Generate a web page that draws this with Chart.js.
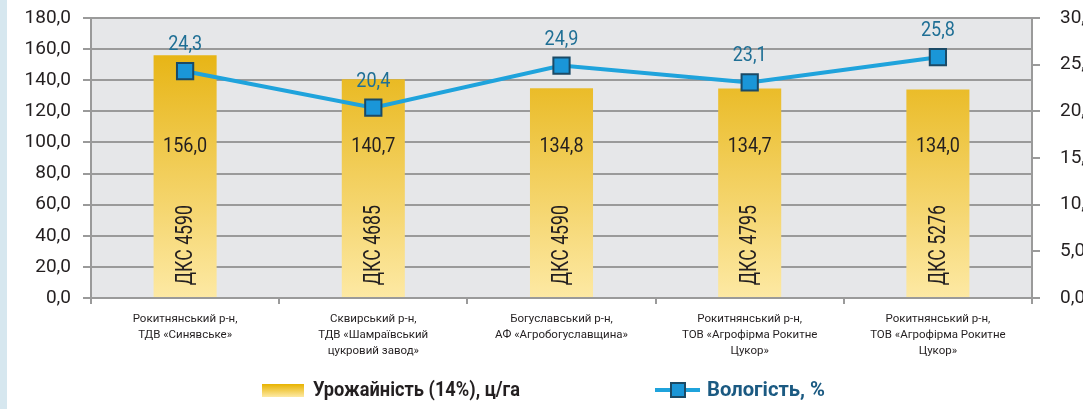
<!DOCTYPE html>
<html>
<head>
<meta charset="utf-8">
<script src="https://cdn.jsdelivr.net/npm/chart.js@4"></script>
<style>
  html, body { margin: 0; padding: 0; background: #fff; }
  canvas { display: block; }
</style>
</head>
<body>
<canvas id="grafico" width="1083" height="409"></canvas>
<script>
// ===== DADOS =====
const regioes = [
    ['Рокитнянський р-н,', 'ТДВ «Синявське»'],
    ['Сквирський р-н,', 'ТДВ «Шамраївський', 'цукровий завод»'],
    ['Богуславський р-н,', 'АФ «Агробогуславщина»'],
    ['Рокитнянський р-н,', 'ТОВ «Агрофірма Рокитне', 'Цукор»'],
    ['Рокитнянський р-н,', 'ТОВ «Агрофірма Рокитне', 'Цукор»']
];
const gibridy = ['ДКС 4590', 'ДКС 4685', 'ДКС 4590', 'ДКС 4795', 'ДКС 5276'];
const urozhainist = [156.0, 140.7, 134.8, 134.7, 134.0];
const vologist = [24.3, 20.4, 24.9, 23.1, 25.8];

const FONT = "'Roboto', sans-serif";
const coma = v => v.toFixed(1).replace('.', ',');

// texto estreito (a fonte original e condensada)
function textoEstreito(ctx, txt, x, y, escala) {
    ctx.save();
    ctx.translate(x, y);
    ctx.scale(escala, 1);
    ctx.fillText(txt, 0, 0);
    ctx.restore();
}

// eixo vertical sem margem extra em cima/baixo
const semMargem = w => s => { s.width = w; s.paddingTop = 0; s.paddingBottom = 0; };

// ===== PLUGIN: fundo, rotulos, legenda =====
const extras = {
    id: 'extras',
    beforeDraw(chart) {
        const { ctx, chartArea: a } = chart;
        ctx.save();
        ctx.fillStyle = '#d6e7ef';
        ctx.fillRect(0, 0, 7, chart.height);
        ctx.fillStyle = '#e6e7e9';
        ctx.fillRect(a.left, a.top, a.right - a.left, a.bottom - a.top);
        ctx.restore();
    },
    afterDatasetsDraw(chart) {
        const { ctx } = chart;
        const barras = chart.getDatasetMeta(0).data;
        const pontos = chart.getDatasetMeta(1).data;
        const y = chart.scales.y;
        ctx.save();
        ctx.textAlign = 'center';
        ctx.textBaseline = 'middle';
        barras.forEach((b, i) => {
            ctx.fillStyle = '#231f20';
            ctx.font = `20px ${FONT}`;
            textoEstreito(ctx, coma(urozhainist[i]), b.x, y.getPixelForValue(97), 0.9);
            ctx.save();
            ctx.translate(b.x, y.getPixelForValue(34));
            ctx.rotate(-Math.PI / 2);
            ctx.font = `23px ${FONT}`;
            textoEstreito(ctx, gibridy[i], 0, 1, 0.77);
            ctx.restore();
        });
        pontos.forEach((p, i) => {
            ctx.fillStyle = '#1f6f95';
            ctx.font = `20px ${FONT}`;
            textoEstreito(ctx, coma(vologist[i]), p.x, p.y - 26, 0.9);
        });
        ctx.restore();
    },
    afterDraw(chart) {
        const { ctx } = chart;
        ctx.save();
        const g = ctx.createLinearGradient(0, 384, 0, 397);
        g.addColorStop(0, '#e8b300');
        g.addColorStop(1, '#fde9a4');
        ctx.fillStyle = g;
        ctx.fillRect(262, 384, 42, 13);
        ctx.font = `bold 21px ${FONT}`;
        ctx.textBaseline = 'middle';
        ctx.fillStyle = '#231f20';
        let t = 'Урожайність (14%), ц/га';
        textoEstreito(ctx, t, 313, 391, 207 / ctx.measureText(t).width);

        ctx.strokeStyle = '#1fa3dc';
        ctx.lineWidth = 4;
        ctx.beginPath();
        ctx.moveTo(655, 390);
        ctx.lineTo(700, 390);
        ctx.stroke();
        ctx.fillStyle = '#1a96d8';
        ctx.strokeStyle = '#1b4a66';
        ctx.lineWidth = 2;
        ctx.fillRect(671, 383, 14, 14);
        ctx.strokeRect(671, 383, 14, 14);
        ctx.fillStyle = '#1b5a82';
        t = 'Вологість, %';
        textoEstreito(ctx, t, 707, 391, 118 / ctx.measureText(t).width);
        ctx.restore();
    }
};

// ===== GRAFICO =====
const ctxG = document.getElementById('grafico').getContext('2d');
const grad = ctxG.createLinearGradient(0, 18, 0, 298);
grad.addColorStop(0, '#e4ad00');
grad.addColorStop(1, '#fde9a4');

new Chart(ctxG, {
    type: 'bar',
    data: {
        labels: regioes,
        datasets: [{
            label: 'Урожайність (14%), ц/га',
            data: urozhainist,
            backgroundColor: grad,
            yAxisID: 'y',
            barPercentage: 0.335,
            categoryPercentage: 1,
            order: 2
        }, {
            type: 'line',
            label: 'Вологість, %',
            data: vologist,
            yAxisID: 'y1',
            borderColor: '#1fa3dc',
            borderWidth: 4,
            pointStyle: 'rect',
            pointRadius: 11.5,
            pointBackgroundColor: '#1a96d8',
            pointBorderColor: '#1b4a66',
            pointBorderWidth: 2,
            tension: 0,
            order: 1
        }]
    },
    options: {
        responsive: false,
        animation: false,
        devicePixelRatio: 1,
        layout: { padding: { top: 18, left: 0, right: 0, bottom: 0 } },
        plugins: { legend: { display: false }, tooltip: { enabled: false } },
        scales: {
            x: {
                afterFit: s => { s.height = 111; },
                grid: { drawOnChartArea: false, drawTicks: true, tickLength: 6, color: '#9a9a9a', lineWidth: 2, offset: true },
                border: { display: true, color: '#9a9a9a', width: 2 },
                ticks: { color: '#231f20', padding: 7, maxRotation: 0, autoSkip: false, font: { family: FONT, size: 11.5, lineHeight: 1.4 } }
            },
            y: {
                position: 'left',
                min: 0, max: 180,
                afterFit: semMargem(91),
                grid: { color: '#9a9a9a', lineWidth: 2, tickLength: 8 },
                border: { display: true, color: '#9a9a9a', width: 2 },
                ticks: { stepSize: 20, padding: 12, color: '#231f20', callback: v => coma(v), font: { family: FONT, size: 19 } }
            },
            y1: {
                position: 'right',
                min: 0, max: 30,
                afterFit: semMargem(51),
                grid: { drawOnChartArea: false, color: '#9a9a9a', lineWidth: 2, tickLength: 8 },
                border: { display: true, color: '#9a9a9a', width: 2 },
                ticks: { stepSize: 5, padding: 20, color: '#231f20', callback: v => coma(v), font: { family: FONT, size: 19 } }
            }
        }
    },
    plugins: [extras]
});
</script>
</body>
</html>
